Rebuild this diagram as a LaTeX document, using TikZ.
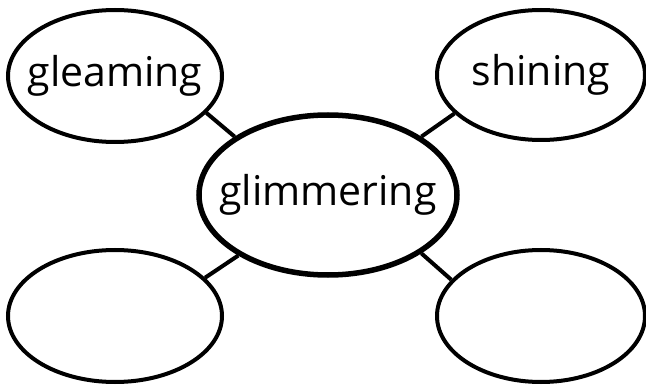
\documentclass[tikz,border=0pt]{standalone}
\usepackage{fontspec}
\setmainfont{Open Sans}
\usetikzlibrary{shapes.geometric}
\tikzset{
  word/.style={ellipse, draw, line width=4pt, inner sep=0pt,
    font=\fontsize{41}{48}\selectfont},
  hub/.style={word, line width=5.5pt}
}
\newcommand{\lbl}[1]{\makebox[0pt]{#1}}
\begin{document}
\begin{tikzpicture}[x=1pt,y=-1pt]
      \useasboundingbox (0,0) rectangle (646,385);
      \draw
        (328,195) node[hub, minimum width=258pt, minimum height=160pt] (mid){\lbl{glimmering}}
        (115,76) node[word, minimum width=214pt, minimum height=132pt] (gleam){\lbl{gleaming}}
        (541,75) node[word, minimum width=208pt, minimum height=130pt] (shine){\lbl{shining}}
        (115,316) node[word, minimum width=214pt, minimum height=132pt] (blank1){}
        (541,316) node[word, minimum width=208pt, minimum height=132pt] (blank2){};
      \begin{scope}[line width=4pt]
        \draw (gleam.-22) to (mid.148);
        \draw (shine.204) to (mid.32);
        \draw (blank1.23) to (mid.214);
        \draw (blank2.158) to (mid.-32);
      \end{scope}
    \end{tikzpicture}
\end{document}
